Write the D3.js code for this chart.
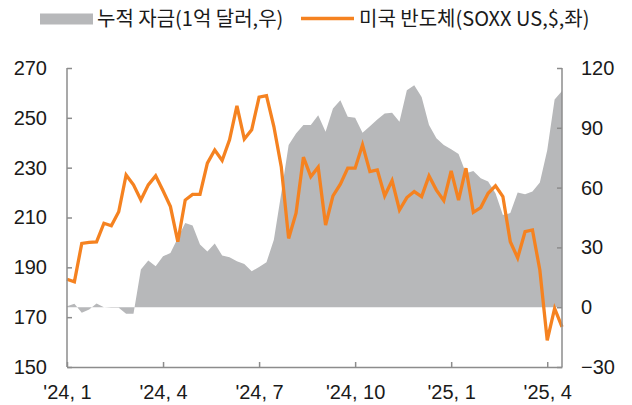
<!DOCTYPE html>
<html>
<head>
<meta charset="utf-8">
<title>SOXX vs cumulative flows</title>
<style>
  body { margin: 0; background: #fff; }
  svg { display: block; }
  text { font-family: "Liberation Sans", Arial, "Noto Sans CJK KR", sans-serif; fill: #1a1a1a; }
  .legend text { font-family: "Noto Sans CJK KR", "Liberation Sans", sans-serif; }
  .axis path, .axis line { stroke: #8c8c8c; stroke-width: 1.5; }
</style>
</head>
<body>
<div id="chart"></div>
<script src="https://d3js.org/d3.v7.min.js"></script>
<script>
// weekly points, Jan 2024 -> mid Apr 2025
var soxx = [185.2, 184.2, 199.6, 200.0, 200.2, 207.7, 206.7, 212.3, 227.1, 223.1,
            217.0, 223.1, 226.7, 220.7, 214.4, 200.3, 217.0, 219.3, 219.3, 231.8,
            237.1, 232.9, 241.2, 254.8, 241.5, 245.2, 258.3, 258.9, 246.5, 230.4,
            201.6, 211.7, 234.2, 226.4, 230.2, 207.0, 218.7, 223.4, 229.8, 229.8,
            239.2, 228.4, 229.1, 218.7, 224.8, 213.0, 218.0, 220.4, 218.4, 226.7,
            221.0, 216.8, 228.7, 217.0, 229.8, 212.1, 214.0, 219.7, 222.7, 218.4,
            200.3, 193.8, 204.3, 205.0, 188.9, 160.7, 173.5, 166.1];

var flows = [0.5, 1.7, -2.8, -1.2, 1.9, 0.0, -0.3, -0.3, -3.3, -3.3,
             18.9, 23.4, 20.5, 25.5, 27.2, 34.7, 42.2, 41.0, 31.4, 28.0,
             31.9, 25.9, 25.0, 23.0, 21.7, 18.0, 20.2, 22.5, 33.9, 57.2,
             81.4, 87.2, 91.4, 91.4, 96.3, 88.0, 99.7, 103.8, 95.5, 95.0,
             87.5, 90.8, 94.2, 97.2, 97.5, 93.0, 108.8, 111.3, 105.5, 91.4,
             84.7, 81.4, 79.2, 76.8, 67.2, 68.3, 64.7, 63.0, 57.2, 46.3,
             47.2, 57.5, 56.7, 58.0, 62.5, 78.8, 104.2, 108.5];

var xTickIdx = [0, 13, 26, 39, 52, 65];
var xTickLabels = ["'24, 1", "'24, 4", "'24, 7", "'24, 10", "'25, 1", "'25, 4"];
var leftTicks = [150, 170, 190, 210, 230, 250, 270];
var rightTicks = [-30, 0, 30, 60, 90, 120];

var W = 632, H = 405;
var svg = d3.select("#chart").append("svg").attr("width", W).attr("height", H);

var x = d3.scaleLinear().domain([0, soxx.length - 1]).range([67, 562]);
var yL = d3.scaleLinear().domain([150, 270]).range([367, 68]);
var yR = d3.scaleLinear().domain([-30, 120]).range([367, 68]);

// area on right axis
var area = d3.area()
    .x(function(d, i){ return x(i); })
    .y0(yR(0))
    .y1(function(d){ return yR(d); });
svg.append("path").datum(flows)
    .attr("d", area)
    .attr("fill", "#b7b8ba");

// line on left axis
var line = d3.line()
    .x(function(d, i){ return x(i); })
    .y(function(d){ return yL(d); });
svg.append("path").datum(soxx)
    .attr("d", line)
    .attr("fill", "none")
    .attr("stroke", "#f58220")
    .attr("stroke-width", 3.3)
    .attr("stroke-linejoin", "miter");

// axes
var gl = svg.append("g").attr("class", "axis")
    .attr("transform", "translate(" + x.range()[0] + ",0)")
    .call(d3.axisLeft(yL).tickValues(leftTicks).tickSizeInner(-5).tickSizeOuter(0).tickPadding(20));
var gr = svg.append("g").attr("class", "axis")
    .attr("transform", "translate(" + x.range()[1] + ",0)")
    .call(d3.axisRight(yR).tickValues(rightTicks).tickSizeInner(-5).tickSizeOuter(0).tickPadding(19)
      .tickFormat(function(d){ return d < 0 ? "\u2212" + Math.abs(d) : d; }));
var gb = svg.append("g").attr("class", "axis")
    .attr("transform", "translate(0," + yL.range()[0] + ")")
    .call(d3.axisBottom(x).tickValues(xTickIdx).tickSizeInner(-5).tickSizeOuter(0).tickPadding(18)
      .tickFormat(function(d, i){ return xTickLabels[i]; }));

svg.selectAll(".axis text")
    .style("font-size", "20px")
    .style("font-family", "'Liberation Sans', Arial, sans-serif")
    .attr("fill", "#1a1a1a");
gr.selectAll(".tick text").filter(function(d){ return d < 0; }).attr("fill", "#ff0000");
gl.select(".domain").attr("d", "M0," + yL.range()[0] + "V" + yL.range()[1]);
gr.select(".domain").attr("d", "M0," + yR.range()[0] + "V" + yR.range()[1]);

// legend
var lg = svg.append("g").attr("class", "legend").style("font-size", "20px");
lg.append("rect").attr("x", 40).attr("y", 13.5).attr("width", 53).attr("height", 11).attr("fill", "#b7b8ba");
lg.append("text").attr("x", 97).attr("y", 18.5).attr("dy", "0.35em").text("누적 자금(1억 달러,우)");
lg.append("line").attr("x1", 301).attr("x2", 354).attr("y1", 18.5).attr("y2", 18.5)
    .attr("stroke", "#f58220").attr("stroke-width", 3.3);
lg.append("text").attr("x", 359).attr("y", 18.5).attr("dy", "0.35em").text("미국 반도체(SOXX US,$,좌)");
</script>
</body>
</html>
